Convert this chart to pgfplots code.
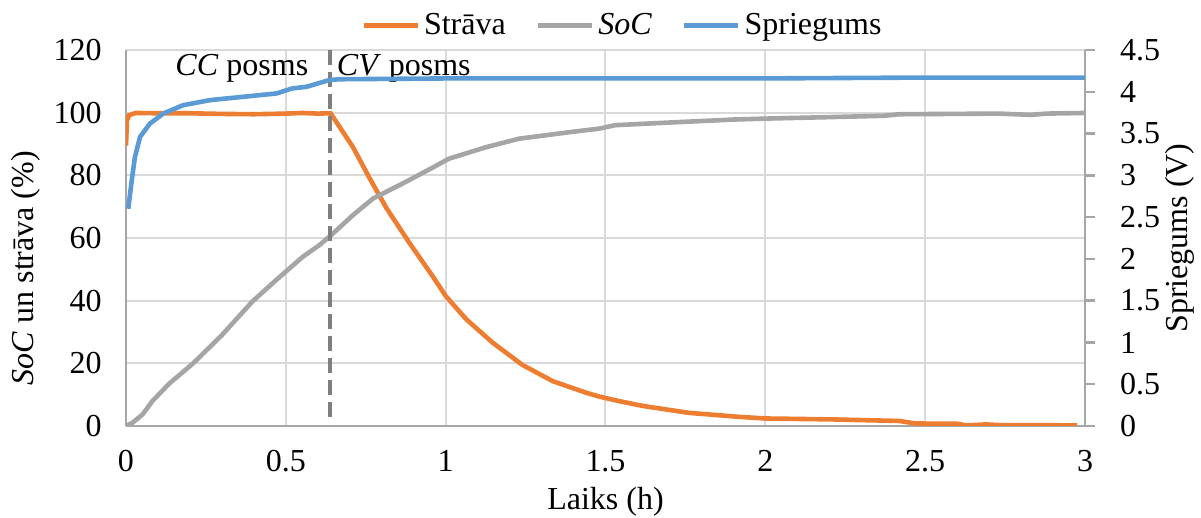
\documentclass[border=0pt]{standalone}
\usepackage{pgfplots}
\pgfplotsset{compat=1.18}
\usepackage{fontspec}
\setmainfont{Liberation Serif}
\definecolor{cOr}{HTML}{ED7D31}
\definecolor{cGr}{HTML}{A5A5A5}
\definecolor{cBl}{HTML}{5B9BD5}
\definecolor{cGrid}{HTML}{D9D9D9}
\definecolor{cAx}{HTML}{A6A6A6}
\definecolor{cDash}{HTML}{7F7F7F}

\pgfplotstableread{
t v
0.000 89.5
0.003 97.5
0.010 99.2
0.030 99.9
0.10 99.8
0.20 99.8
0.30 99.6
0.40 99.5
0.50 99.7
0.55 99.9
0.60 99.7
0.64 99.8
0.71 89
0.7625 79
0.815 69.5
0.8875 58.3
0.96 47.7
1.0 41.5
1.065 34
1.148 26.5
1.24 19.5
1.335 14.3
1.44 10.6
1.48 9.4
1.544 7.9
1.617 6.4
1.76 4.2
1.92 2.9
2.0 2.4
2.21 2.1
2.42 1.6
2.47 0.8
2.6 0.7
2.63 0.2
2.69 0.5
2.73 0.3
2.975 0.2
}\strava

\pgfplotstableread{
t v
0 0
0.02 1
0.052 3.7
0.083 8
0.135 13.5
0.21 20
0.30 29
0.395 39.7
0.47 46.6
0.553 54
0.606 57.8
0.643 61
0.71 67.3
0.773 72.6
0.877 78
0.96 82.5
1.01 85.3
1.127 89
1.23 91.7
1.39 93.8
1.48 94.9
1.53 96
1.69 96.8
1.9 97.8
2.0 98.1
2.21 98.6
2.37 99
2.42 99.5
2.73 99.7
2.83 99.3
2.88 99.7
3.0 99.9
}\soc

\pgfplotstableread{
t v
0.007 2.60
0.018 2.94
0.028 3.22
0.044 3.46
0.075 3.62
0.117 3.74
0.179 3.84
0.263 3.90
0.367 3.94
0.471 3.98
0.52 4.04
0.565 4.06
0.636 4.14
0.667 4.15
1.01 4.16
2.0 4.16
2.5 4.17
3.0 4.17
}\sprieg

\begin{document}
\begin{tikzpicture}[font=\fontsize{16}{19}\selectfont]
\path[use as bounding box] (-63pt,-46pt) rectangle (537.5pt,213pt);
\begin{axis}[
  scale only axis, width=479.5pt, height=188pt,
  xmin=0, xmax=3, ymin=0, ymax=120,
  xtick={0,0.5,1,1.5,2,2.5,3}, ytick={0,20,40,60,80,100,120},
  /pgf/number format/assume math mode=true,
  grid=major, major grid style={cGrid, line width=1pt},
  axis x line*=bottom, axis y line*=left,
  axis line style={cAx, line width=1.25pt, -},
  major tick length=0pt,
  xticklabel style={yshift=-8.5pt},
  yticklabel style={xshift=-8.7pt},
  xlabel={Laiks (h)},
  ylabel={\textit{SoC} un strāva (\%)},
  xlabel style={at={(axis description cs:0.5,-0.202)}, anchor=center},
  ylabel style={at={(axis description cs:-0.105,0.42)}, anchor=center},
  legend columns=3,
  legend style={at={(0.5,1)}, anchor=south, yshift=2pt, xshift=9pt, draw=none, fill=none,
    /tikz/every even column/.append style={column sep=13pt}},
  legend image code/.code={\draw[#1] (0pt,0pt) -- (27pt,0pt);},
]
\addplot[cOr, line width=2.3pt] table[x=t,y=v] {\strava};
\addlegendentry{Strāva}
\addplot[cGr, line width=2.3pt] table[x=t,y=v] {\soc};
\addlegendentry{\textit{SoC}}
\addlegendimage{cBl, line width=2.3pt}
\addlegendentry{Spriegums}
\addplot[cDash, line width=1.8pt, dash pattern=on 7.5pt off 3.5pt, forget plot] coordinates {(0.6375,120) (0.6375,2.5)};
\node[anchor=center] at (axis cs:0.3625,114) {\textit{CC} posms};
\node[anchor=center] at (axis cs:0.869,114) {\textit{CV} posms};
\end{axis}
\begin{axis}[
  scale only axis, width=479.5pt, height=188pt,
  xmin=0, xmax=3, ymin=0, ymax=4.5,
  axis x line=none, axis y line*=right,
  ytick={0,0.5,1,1.5,2,2.5,3,3.5,4,4.5},
  /pgf/number format/assume math mode=true,
  axis line style={cAx, line width=1.25pt, -},
  tick style={cAx, line width=1.25pt},
  major tick length=5pt, tick align=outside,
  yticklabel style={xshift=9pt},
  ylabel={Spriegums (V)},
  ylabel style={at={(axis description cs:1.099,0.5)}, anchor=center},
]
\addplot[cBl, line width=2.3pt] table[x=t,y=v] {\sprieg};
\end{axis}
\end{tikzpicture}
\end{document}
